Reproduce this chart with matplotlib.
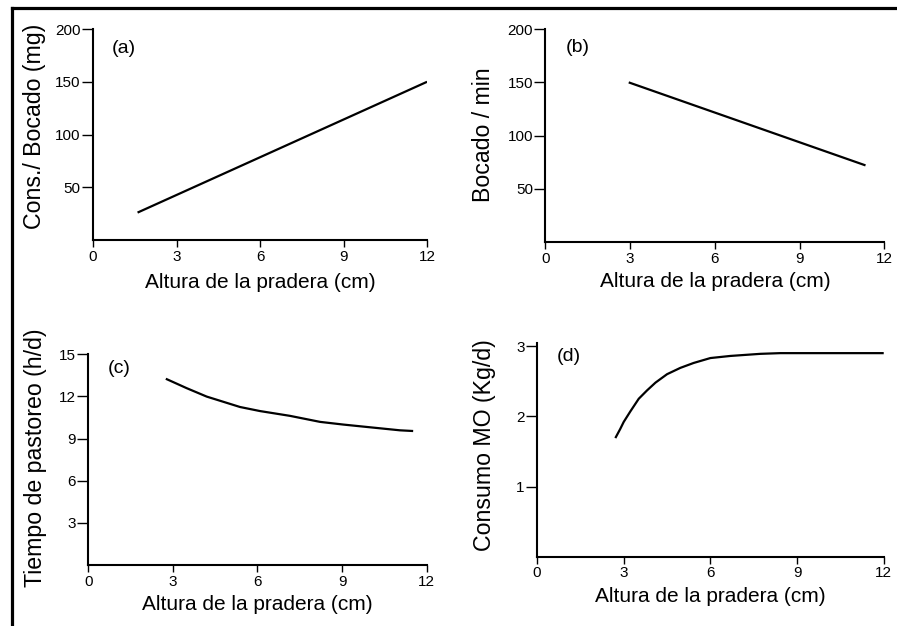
import matplotlib
matplotlib.use("Agg")
import matplotlib.pyplot as plt
from matplotlib.lines import Line2D

plt.rcParams["font.family"] = ["Liberation Sans", "DejaVu Sans"]

# (a) intake per bite vs sward height
a_x = [1.6, 12.0]
a_y = [26, 150]

# (b) bite rate vs sward height
b_x = [2.95, 11.33]
b_y = [150, 72]

# (c) grazing time vs sward height
c_x = [2.75, 3.49, 4.2, 5.38, 6.09, 7.15, 8.22, 9.04, 9.87, 11.05, 11.52]
c_y = [13.26, 12.59, 11.99, 11.25, 10.96, 10.62, 10.19, 10.0, 9.83, 9.59, 9.54]

# (d) organic matter intake vs sward height
d_x = [2.71, 2.88, 3.0, 3.23, 3.52, 3.81, 4.10, 4.5, 4.96, 5.42, 6.0, 6.69, 7.73, 8.42, 12.0]
d_y = [1.69, 1.82, 1.92, 2.07, 2.25, 2.37, 2.48, 2.60, 2.69, 2.76, 2.83, 2.86, 2.89, 2.90, 2.90]

x_ticks = [0, 3, 6, 9, 12]
xlabel = "Altura de la pradera (cm)"

panels = [
    # rect, x, y, ylim, yticks, ylabel, tag, tag pos, ylabel pos, xlabel y
    ([0.1037, 0.6166, 0.3724, 0.337], a_x, a_y, (0, 200), [50, 100, 150, 200],
     "Cons./ Bocado (mg)", "(a)", (0.057, 0.91), (-0.14, 0.538), -0.156),
    ([0.608, 0.6134, 0.378, 0.340], b_x, b_y, (0, 200), [50, 100, 150, 200],
     "Bocado / min", "(b)", (0.06, 0.915), (-0.15, 0.502), -0.141),
    ([0.0984, 0.0974, 0.3773, 0.3366], c_x, c_y, (0, 15), [3, 6, 9, 12, 15],
     "Tiempo de pastoreo (h/d)", "(c)", (0.058, 0.935), (-0.121, 0.51), -0.142),
    ([0.5987, 0.1107, 0.3865, 0.342], d_x, d_y, (0, 3.05), [1, 2, 3],
     "Consumo MO (Kg/d)", "(d)", (0.058, 0.933), (-0.117, 0.522), -0.142),
]

fig = plt.figure(figsize=(8.97, 6.26), dpi=100)

for rect, xs, ys, ylim, yticks, ylabel, tag, tagpos, ylpos, xly in panels:
    ax = fig.add_axes(rect)
    ax.plot(xs, ys, color="black", lw=1.6, solid_capstyle="butt")
    ax.set_xlim(0, 12)
    ax.set_ylim(*ylim)
    ax.set_xticks(x_ticks)
    ax.set_yticks(yticks)
    ax.spines["top"].set_visible(False)
    ax.spines["right"].set_visible(False)
    for s in ("left", "bottom"):
        ax.spines[s].set_linewidth(1.5)
    ax.tick_params(axis="y", direction="out", length=8, width=1.0,
                   labelsize=11, pad=1)
    ax.tick_params(axis="x", direction="out", length=5, width=1.0,
                   labelsize=11, pad=2)
    ax.set_xlabel(xlabel, fontsize=15)
    ax.xaxis.set_label_coords(0.5, xly)
    ax.set_ylabel(ylabel, fontsize=16.7)
    ax.yaxis.set_label_coords(*ylpos)
    ax.text(tagpos[0], tagpos[1], tag, transform=ax.transAxes,
            fontsize=14, ha="left", va="center")

# frame lines along the left and top edges of the figure
fig.add_artist(Line2D([12 / 897, 12 / 897], [0, 1 - 7.5 / 626],
                      transform=fig.transFigure, color="black", lw=2.3))
fig.add_artist(Line2D([12 / 897, 1], [1 - 7.5 / 626, 1 - 7.5 / 626],
                      transform=fig.transFigure, color="black", lw=2.3))

fig.savefig("out.png", dpi=100)
